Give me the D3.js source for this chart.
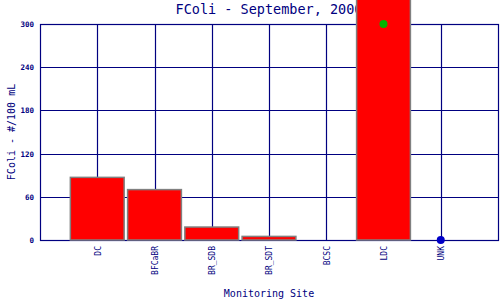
<!DOCTYPE html>
<html>
<head>
<meta charset="utf-8">
<script src="https://cdn.jsdelivr.net/npm/d3@7"></script>
<style>
html,body{margin:0;padding:0;background:#fff;}
svg{display:block;}
text{font-family:"DejaVu Sans Mono","Liberation Mono",monospace;fill:#000080;}
</style>
</head>
<body>
<svg id="chart" width="500" height="300"></svg>
<script>
const sites = ["DC","BFCaBR","BR_SDB","BR_SDT","BCSC","LDC","UNK"];
const fcoli = [87, 70, 18, 5, 0, 420, null];
const markerSites = ["LDC","UNK"];
const markerValues = [300, 0];
const markerColors = ["#00b400","#0000c8"];
const yTicks = [0, 60, 120, 180, 240, 300];
const title = "FColi - September, 2000";
const yTitle = "FColi - #/100 mL";
const xTitle = "Monitoring Site";

const svg = d3.select("#chart");
const L = 40, R = 498, T = 24, B = 240;
const x = d3.scalePoint().domain(sites).range([L, R]).padding(1);
const y = d3.scaleLinear().domain([0, 300]).range([B, T]);
const navy = "#000080";

// title (drawn underneath bars)
svg.append("text").attr("x", (L + R) / 2).attr("y", 14)
  .attr("text-anchor", "middle").style("font-size", "13.5px").text(title);

// grid
const g = svg.append("g");
g.selectAll("line.h").data(yTicks).enter().append("line")
  .attr("x1", L).attr("x2", R)
  .attr("y1", d => Math.round(y(d)) + 0.5).attr("y2", d => Math.round(y(d)) + 0.5)
  .attr("stroke", navy).attr("stroke-width", 1.2);
g.selectAll("line.v").data(sites).enter().append("line")
  .attr("x1", d => Math.round(x(d)) + 0.5).attr("x2", d => Math.round(x(d)) + 0.5)
  .attr("y1", T).attr("y2", B)
  .attr("stroke", navy).attr("stroke-width", 1.2);
// frame
svg.append("rect").attr("x", L + 0.5).attr("y", T + 0.5)
  .attr("width", R - L).attr("height", B - T)
  .attr("fill", "none").attr("stroke", navy).attr("stroke-width", 1.2);

// bars
const bw = x.step() * 0.94;
const barData = sites.map((s, i) => ({s, v: fcoli[i]})).filter(d => d.v !== null);
svg.selectAll("rect.bar").data(barData).enter().append("rect")
  .attr("x", d => x(d.s) - bw / 2)
  .attr("width", bw)
  .attr("y", d => y(d.v))
  .attr("height", d => y(0) - y(d.v))
  .attr("fill", "#ff0000")
  .attr("stroke", "#808080").attr("stroke-width", 1.5);

// markers
svg.selectAll("circle.m").data(markerSites.map((s, i) => ({s, v: markerValues[i], c: markerColors[i]})))
  .enter().append("circle")
  .attr("cx", d => x(d.s)).attr("cy", d => y(d.v)).attr("r", 4)
  .attr("fill", d => d.c);

// y tick labels
const yAxis = d3.axisLeft(y).tickValues(yTicks).tickSize(0).tickPadding(6);
const ya = svg.append("g").attr("transform", `translate(${L},0)`).call(yAxis);
ya.select(".domain").remove();
ya.selectAll("text").style("font-size", "7.5px").style("font-family", '"DejaVu Sans Mono",monospace')
  .attr("fill", navy).style("font-weight", "bold");

// x tick labels
const xAxis = d3.axisBottom(x).tickSize(0).tickPadding(0);
const xa = svg.append("g").attr("transform", `translate(0,${B})`).call(xAxis);
xa.select(".domain").remove();
xa.selectAll("text")
  .style("font-size", "8px").style("font-family", '"DejaVu Sans Mono",monospace')
  .attr("fill", navy)
  .attr("text-anchor", "end")
  .attr("transform", "rotate(-90)")
  .attr("x", -6).attr("y", 0).attr("dy", "0.35em");

// axis titles
svg.append("text").attr("transform", `translate(11,${(T + B) / 2}) rotate(-90)`)
  .attr("text-anchor", "middle").attr("dy", "0.35em").style("font-size", "10px").text(yTitle);
svg.append("text").attr("x", (L + R) / 2).attr("y", 297)
  .attr("text-anchor", "middle").style("font-size", "10px").text(xTitle);
</script>
</body>
</html>
